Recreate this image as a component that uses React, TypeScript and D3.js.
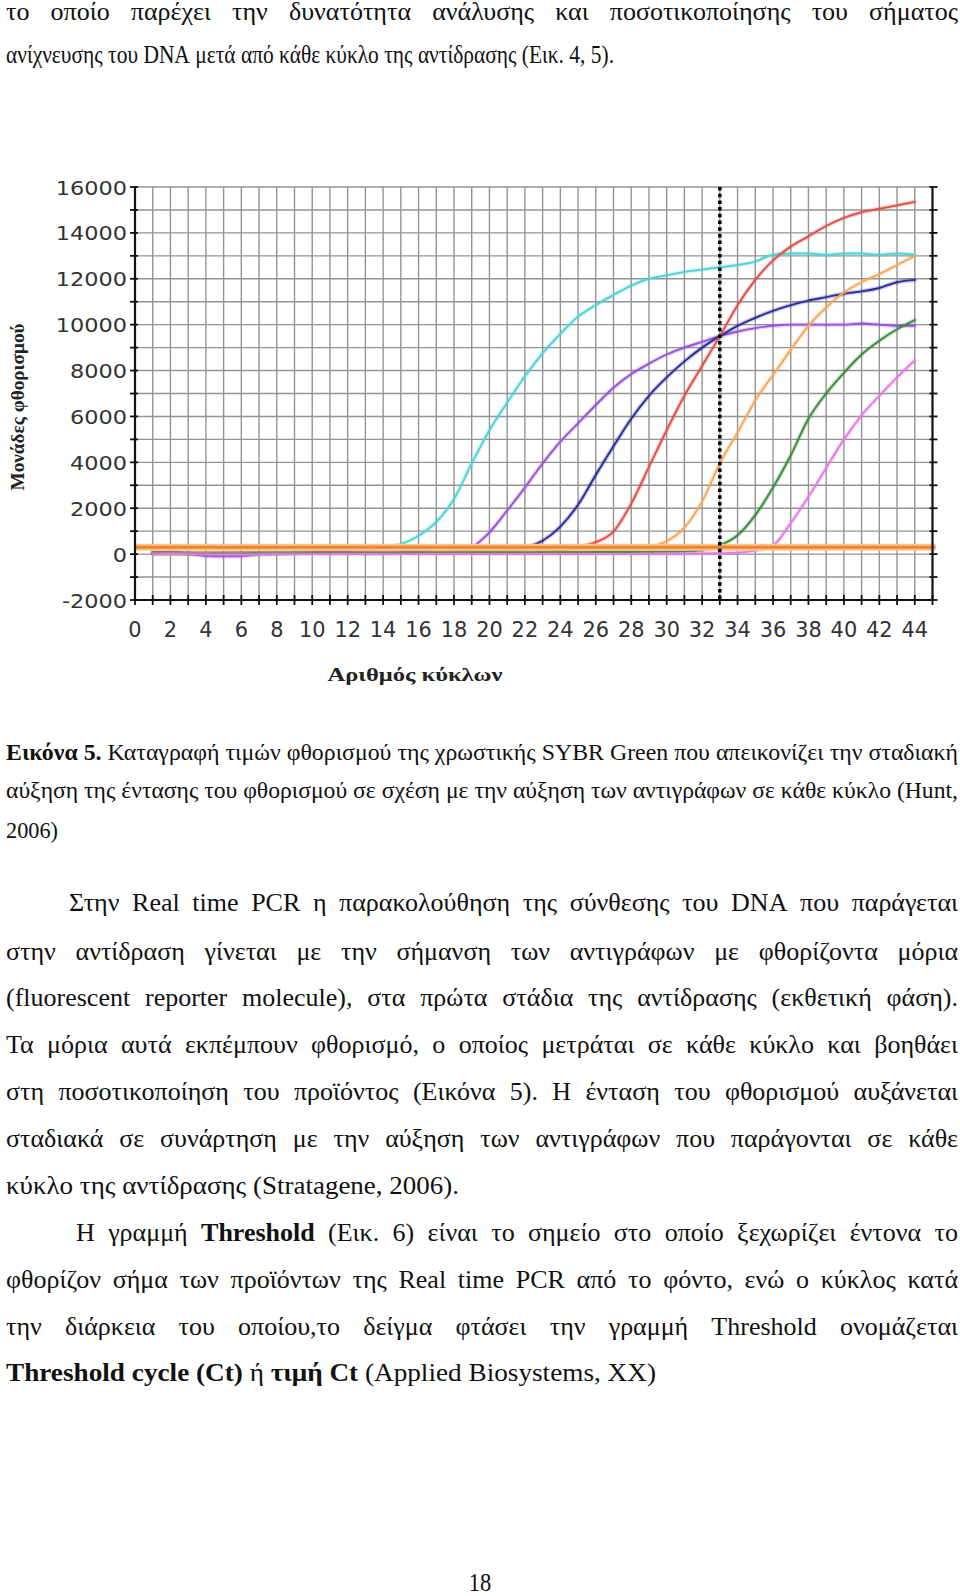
import React, { useMemo } from 'react';
import * as d3 from 'd3';

// ---------- chart data ----------
const CYCLES = [1, 2, 3, 4, 5, 6, 7, 8, 9, 10, 11, 12, 13, 14, 15, 16, 17, 18, 19, 20, 21, 22, 23, 24, 25, 26, 27, 28, 29, 30, 31, 32, 33, 34, 35, 36, 37, 38, 39, 40, 41, 42, 43, 44];

const CYAN = [40, 50, 30, 20, 10, 20, 30, 40, 50, 60, 60, 70, 120,
  260, 430, 800, 1400, 2400, 3950, 5400, 6600, 7750, 8750, 9600, 10350, 10850, 11300, 11700, 12000, 12150, 12300, 12400, 12500, 12600, 12750, 13050, 13100, 13100, 13050, 13100, 13100, 13050, 13100, 13050];
const VIOLET = [100, 90, 30, -80, -100, -90, 0, 30, 50, 80, 90, 90, 80, 70, 90, 90, 80, 100,
  300, 950, 1900, 2900, 3950, 4900, 5700, 6500, 7250, 7850, 8300, 8700, 9000, 9250, 9500, 9700, 9850, 9950, 10000, 10000, 10000, 10000, 10050, 10000, 9950, 9950];
const NAVY = [50, 60, 40, 30, 30, 40, 50, 50, 60, 60, 70, 60, 50, 50, 60, 70, 80, 90, 110, 100, 120,
  280, 580, 1200, 2150, 3450, 4700, 5900, 6900, 7700, 8400, 9000, 9500, 9950, 10300, 10600, 10850, 11050, 11200, 11350, 11450, 11600, 11850, 11950];
const RED = [40, 40, 30, 30, 40, 40, 50, 50, 50, 60, 60, 60, 60, 60, 60, 70, 70, 70, 80, 80, 110, 120, 100, 150,
  300, 520, 980, 2200, 3800, 5400, 6900, 8200, 9500, 10850, 11950, 12800, 13400, 13850, 14300, 14650, 14900, 15050, 15200, 15350];
const ORANGE = [50, 50, 40, 40, 50, 50, 50, 60, 60, 60, 60, 60, 70, 70, 70, 70, 80, 80, 80, 80, 90, 90, 90, 100, 100, 110, 120, 160,
  320, 560, 1150, 2300, 3950, 5300, 6700, 7800, 8900, 9950, 10750, 11400, 11850, 12200, 12600, 13000];
const GREEN = [30, 30, 20, 20, 30, 30, 40, 40, 40, 50, 50, 50, 50, 50, 60, 60, 60, 60, 70, 70, 70, 70, 80, 80, 80, 90, 90, 90, 100, 110, 120, 180,
  380, 820, 1700, 2900, 4300, 5900, 7000, 7900, 8700, 9300, 9800, 10200];
const PINK = [0, 10, 0, -10, -20, -20, -10, 0, 0, 0, 0, 10, 10, 0, 0, 0, 10, 10, 0, 0, 0, 0, 10, 10, 10, 0, 0, 10, 10, 20, 20, 30, 40, 60,
  150, 380, 1350, 2500, 3750, 5000, 6050, 6900, 7700, 8450];

const THRESHOLD = 300;
const CT_CYCLE = 33;
const X_TICK_LABELS = [0, 2, 4, 6, 8, 10, 12, 14, 16, 18, 20, 22, 24, 26, 28, 30, 32, 34, 36, 38, 40, 42, 44];
const Y_TICK_LABELS = [-2000, 0, 2000, 4000, 6000, 8000, 10000, 12000, 14000, 16000];
const Y_AXIS_TITLE = 'Μονάδες φθορισμού';
const X_AXIS_TITLE = 'Αριθμός κύκλων';

// ---------- page text ----------
const TOP_LINES = [
  'το οποίο παρέχει την δυνατότητα ανάλυσης και ποσοτικοποίησης του σήματος',
  'ανίχνευσης του DNA μετά από κάθε κύκλο της αντίδρασης (Εικ. 4, 5).',
];
const CAPTION_LINES = [
  '*Εικόνα *5. Καταγραφή τιμών φθορισμού της χρωστικής SYBR Green που απεικονίζει την σταδιακή',
  'αύξηση της έντασης του φθορισμού σε σχέση με την αύξηση των αντιγράφων σε κάθε κύκλο (Hunt,',
  '2006)',
];
const PARA1_LINES = [
  'Στην Real time PCR η παρακολούθηση της σύνθεσης του DNA που παράγεται',
  'στην αντίδραση γίνεται με την σήμανση των αντιγράφων με φθορίζοντα μόρια',
  '(fluorescent reporter molecule), στα πρώτα στάδια της αντίδρασης (εκθετική φάση).',
  'Τα μόρια αυτά εκπέμπουν φθορισμό, ο οποίος μετράται σε κάθε κύκλο και βοηθάει',
  'στη ποσοτικοποίηση του προϊόντος (Εικόνα 5). Η ένταση του φθορισμού αυξάνεται',
  'σταδιακά σε συνάρτηση με την αύξηση των αντιγράφων που παράγονται σε κάθε',
  'κύκλο της αντίδρασης (Stratagene, 2006).',
];
const PARA2_LINES = [
  'Η γραμμή *Threshold (Εικ. 6) είναι το σημείο στο οποίο ξεχωρίζει έντονα το',
  'φθορίζον σήμα των προϊόντων της Real time PCR από το φόντο, ενώ ο κύκλος κατά',
  'την διάρκεια του οποίου,το δείγμα φτάσει την γραμμή Threshold ονομάζεται',
  '*Threshold *cycle *(Ct) ή *τιμή *Ct (Applied Biosystems, XX)',
];
const PAGE_NUMBER = '18';

type LineSpec = { text: string; x0: number; x1: number; y: number; size: number; mode: 'fit' | 'just' };

const SERIF = '"Liberation Serif", "Times New Roman", serif';
const GLYPH_SX = 1.0;

function measureLine(ctx: CanvasRenderingContext2D | null, l: LineSpec) {
  const tokens = l.text.split(' ').map((t) => ({ bold: t.startsWith('*'), w: t.replace(/^\*/, '') }));
  const widths = tokens.map((t) => {
    if (!ctx) return t.w.length * l.size * 0.45;
    ctx.font = `${t.bold ? 'bold ' : ''}${l.size}px "Liberation Serif"`;
    return ctx.measureText(t.w).width;
  });
  let spaceW = l.size * 0.25;
  if (ctx) {
    ctx.font = `${l.size}px "Liberation Serif"`;
    spaceW = ctx.measureText(' ').width;
  }
  const sum = widths.reduce((a, b) => a + b, 0);
  const natural = sum + spaceW * (tokens.length - 1);
  return { tokens, widths, spaceW, sum, natural };
}

function layoutLine(ctx: CanvasRenderingContext2D | null, l: LineSpec, groupSx: number) {
  const m = measureLine(ctx, l);
  const n = m.tokens.length;
  let sx = groupSx;
  let gap = 0;
  if (l.mode === 'fit' || n === 1) {
    sx = (l.x1 - l.x0) / m.natural;
    gap = m.spaceW * sx;
  } else {
    gap = (l.x1 - l.x0 - m.sum * sx) / (n - 1);
    if (gap < m.spaceW * sx * 0.8) {
      sx = (l.x1 - l.x0) / (m.sum + m.spaceW * 0.8 * (n - 1));
      gap = m.spaceW * sx * 0.8;
    }
  }
  let cx = l.x0;
  return m.tokens.map((t, i) => {
    const pos = cx;
    cx += m.widths[i] * sx + gap;
    return { ...t, x: pos, sx };
  });
}

export default function App() {
  const W = 960;
  const H = 1596;
  const x = d3.scaleLinear().domain([0, 45]).range([135, 932.5]);
  const y = d3.scaleLinear().domain([-2000, 16000]).range([600, 187]);

  const series = [
    { name: 'cyan', color: '#4fd2d6', values: CYAN },
    { name: 'violet', color: '#9a52d6', values: VIOLET },
    { name: 'navy', color: '#2b2b9c', values: NAVY },
    { name: 'red', color: '#e0504a', values: RED },
    { name: 'orange', color: '#f6a75c', values: ORANGE },
    { name: 'green', color: '#3a8d3a', values: GREEN },
    { name: 'pink', color: '#e57ae6', values: PINK },
  ];

  const line = d3
    .line<number>()
    .x((_, i) => x(CYCLES[i]))
    .y((d) => y(d))
    .curve(d3.curveMonotoneX);

  const gridX = x.ticks(45).filter((c) => c > 0 && c < 45);
  const gridY = y.ticks(18).filter((v) => v > -2000);
  const allY = y.ticks(18);

  const ctx = useMemo(() => {
    if (typeof document === 'undefined') return null;
    const c = document.createElement('canvas');
    return c.getContext('2d');
  }, []);

  const BODY = 26;
  const CAP = 24;
  const lines: LineSpec[] = [
    { text: TOP_LINES[0], x0: 6, x1: 958, y: 20, size: BODY, mode: 'just' },
    { text: TOP_LINES[1], x0: 6, x1: 614, y: 63, size: BODY, mode: 'fit' },
    { text: CAPTION_LINES[0], x0: 6, x1: 958, y: 760, size: CAP, mode: 'fit' },
    { text: CAPTION_LINES[1], x0: 6, x1: 958, y: 798, size: CAP, mode: 'fit' },
    { text: CAPTION_LINES[2], x0: 6, x1: 58, y: 838, size: CAP, mode: 'fit' },
    { text: PARA1_LINES[0], x0: 69, x1: 958, y: 911, size: BODY, mode: 'just' },
    { text: PARA1_LINES[1], x0: 6, x1: 958, y: 960, size: BODY, mode: 'just' },
    { text: PARA1_LINES[2], x0: 6, x1: 958, y: 1006, size: BODY, mode: 'just' },
    { text: PARA1_LINES[3], x0: 6, x1: 958, y: 1052.5, size: BODY, mode: 'just' },
    { text: PARA1_LINES[4], x0: 6, x1: 958, y: 1100, size: BODY, mode: 'just' },
    { text: PARA1_LINES[5], x0: 6, x1: 958, y: 1147, size: BODY, mode: 'just' },
    { text: PARA1_LINES[6], x0: 6, x1: 459, y: 1194, size: BODY, mode: 'fit' },
    { text: PARA2_LINES[0], x0: 76, x1: 958, y: 1241, size: BODY, mode: 'just' },
    { text: PARA2_LINES[1], x0: 6, x1: 958, y: 1288, size: BODY, mode: 'just' },
    { text: PARA2_LINES[2], x0: 6, x1: 958, y: 1334.5, size: BODY, mode: 'just' },
    { text: PARA2_LINES[3], x0: 6, x1: 656, y: 1381, size: BODY, mode: 'fit' },
  ];

  const laidOut = lines.map((l) => ({ l, words: layoutLine(ctx, l, GLYPH_SX) }));

  return (
    <svg
      width={W}
      height={H}
      viewBox={`0 0 ${W} ${H}`}
      style={{ position: 'absolute', left: 0, top: 0, background: '#fff' }}
    >
      <rect x={0} y={0} width={W} height={H} fill="#fff" />

      {/* page text */}
      {laidOut.map(({ l, words }, li) => (
        <g key={li}>
          {words.map((w, wi) => (
            <text
              key={wi}
              transform={`translate(${w.x},${l.y}) scale(${w.sx},1)`}
              fontFamily={SERIF}
              fontSize={l.size}
              fontWeight={w.bold ? 'bold' : 'normal'}
              fill="#111"
            >
              {w.w}
            </text>
          ))}
        </g>
      ))}
      <text
        transform="translate(480,1591) scale(0.9,1)"
        textAnchor="middle"
        fontFamily={SERIF}
        fontSize={25}
        fill="#111"
      >
        {PAGE_NUMBER}
      </text>

      {/* chart grid */}
      <g stroke="#939393" strokeWidth={1.4}>
        {gridX.map((c) => (
          <line key={'gx' + c} x1={x(c)} x2={x(c)} y1={y(16000)} y2={y(-2000)} />
        ))}
        {gridY.map((v) => (
          <line key={'gy' + v} x1={x(0)} x2={x(45)} y1={y(v)} y2={y(v)} />
        ))}
      </g>

      {/* curves */}
      {series.map((s) => (
        <g key={s.name} fill="none" strokeLinejoin="round" strokeLinecap="round">
          <path d={line(s.values) || ''} stroke={s.color} strokeWidth={4.5} opacity={0.25} />
          <path d={line(s.values) || ''} stroke={s.color} strokeWidth={1.9} />
        </g>
      ))}

      {/* threshold */}
      <line x1={x(0)} x2={x(45) + 3} y1={y(THRESHOLD)} y2={y(THRESHOLD)} stroke="#f7c690" strokeWidth={7} />
      <line x1={x(0)} x2={x(45) + 3} y1={y(THRESHOLD)} y2={y(THRESHOLD)} stroke="#ef8428" strokeWidth={3} />

      {/* Ct dotted line */}
      <line
        x1={x(CT_CYCLE)}
        x2={x(CT_CYCLE)}
        y1={y(16000)}
        y2={y(-2000)}
        stroke="#000"
        strokeWidth={3.5}
        strokeDasharray="3.5 3.2"
      />

      {/* axes */}
      <g stroke="#111" strokeWidth={2.2}>
        <line x1={x(0)} x2={x(0)} y1={y(16000)} y2={y(-2000)} />
        <line x1={x(45)} x2={x(45)} y1={y(16000)} y2={y(-2000)} />
        <line x1={x(0)} x2={x(45)} y1={y(-2000)} y2={y(-2000)} />
      </g>
      <g stroke="#111" strokeWidth={1.8}>
        {allY.map((v) => (
          <line key={'lt' + v} x1={x(0) - 5} x2={x(0) + 3} y1={y(v)} y2={y(v)} />
        ))}
        {allY.map((v) => (
          <line key={'rt' + v} x1={x(45) - 3} x2={x(45) + 5} y1={y(v)} y2={y(v)} />
        ))}
        {x.ticks(45).map((c) => (
          <line key={'xt' + c} x1={x(c)} x2={x(c)} y1={y(-2000) - 5} y2={y(-2000) + 5} />
        ))}
      </g>

      {/* tick labels */}
      {Y_TICK_LABELS.map((v) => (
        <text
          key={'yl' + v}
          transform={`translate(${x(0) - 8},${y(v) + 7.5}) scale(1.12,1)`}
          textAnchor="end"
          fontFamily='"DejaVu Sans", Verdana, sans-serif'
          fontSize={20}
          fill="#333"
        >
          {v}
        </text>
      ))}
      {X_TICK_LABELS.map((c) => (
        <text
          key={'xl' + c}
          transform={`translate(${x(c)},637) scale(0.95,1)`}
          textAnchor="middle"
          fontFamily='"DejaVu Sans", Verdana, sans-serif'
          fontSize={22}
          fill="#333"
        >
          {c}
        </text>
      ))}

      {/* axis titles */}
      <text
        x={415}
        y={681}
        textAnchor="middle"
        fontFamily={SERIF}
        fontWeight="bold"
        fontSize={19}
        textLength={175}
        lengthAdjust="spacingAndGlyphs"
        fill="#222"
      >
        {X_AXIS_TITLE}
      </text>
      <text
        transform="translate(24,407) rotate(-90)"
        textAnchor="middle"
        fontFamily={SERIF}
        fontWeight="bold"
        fontSize={19}
        textLength={167}
        lengthAdjust="spacingAndGlyphs"
        fill="#222"
      >
        {Y_AXIS_TITLE}
      </text>
    </svg>
  );
}
